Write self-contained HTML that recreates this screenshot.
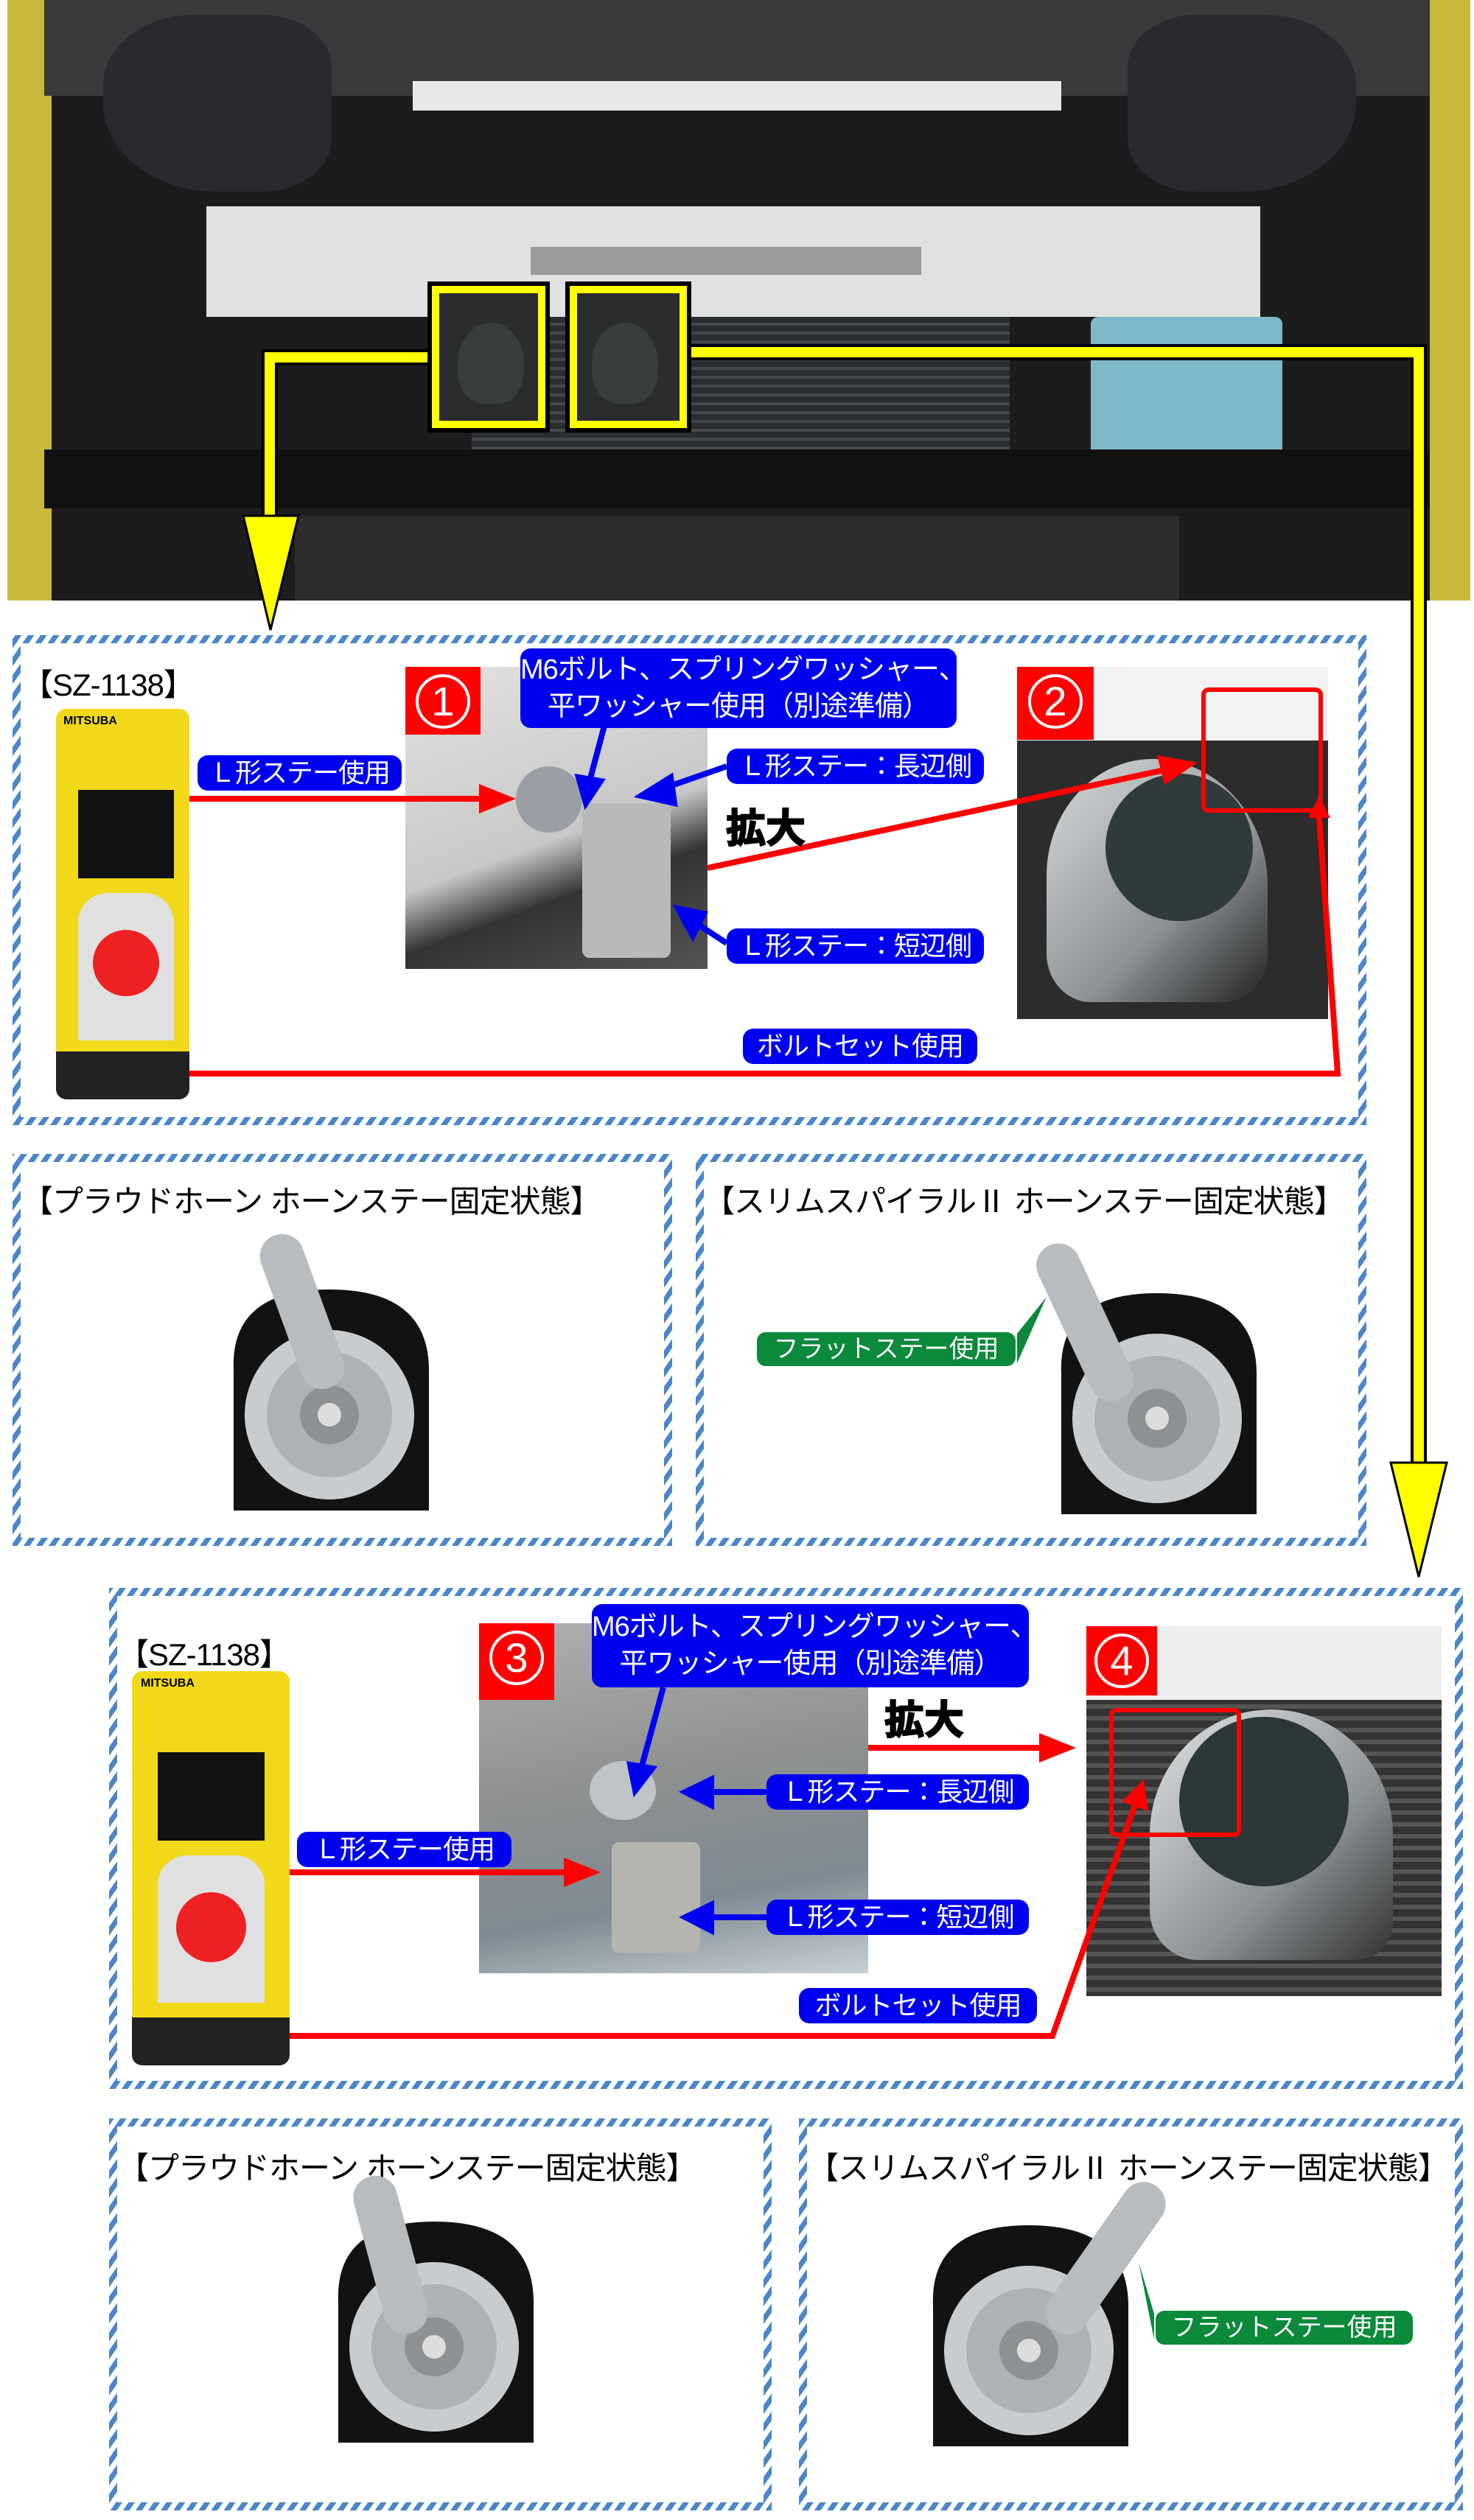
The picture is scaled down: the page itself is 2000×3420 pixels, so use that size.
<!DOCTYPE html>
<html><head><meta charset="utf-8">
<style>
*{margin:0;padding:0;box-sizing:border-box}
body{width:2000px;height:3420px;background:#fff;position:relative;overflow:hidden;font-family:"Liberation Sans","Noto Sans CJK JP",sans-serif}
.a{position:absolute}
.panel{position:absolute;background:repeating-linear-gradient(-55deg,#4a86c8 0 7px,#fff 7px 14px);padding:11px}
.panel>div{width:100%;height:100%;background:#fff}
.pill{position:absolute;background:#0000f0;color:#fff;border-radius:14px;font-size:36px;line-height:48px;text-align:center;white-space:nowrap;letter-spacing:-1px;z-index:3}
.gpill{position:absolute;background:#0a8a3a;color:#fff;border-radius:14px;font-size:34px;line-height:46px;text-align:center;white-space:nowrap;border:2px solid #fff}
.ttl{position:absolute;font-size:42px;color:#000;white-space:nowrap;letter-spacing:-1px}
.num{position:absolute;background:#f00;color:#fff;text-align:center}
.num span{display:inline-block;border:4px solid #fff;border-radius:50%;width:74px;height:74px;line-height:66px;font-size:56px;margin-top:10px}
.pkg{position:absolute;background:#f1d91a;border-radius:14px;overflow:hidden}
.big{position:absolute;font-size:54px;font-weight:bold;color:#000;-webkit-text-stroke:2px #000;text-shadow:0 0 4px #fff;z-index:3}
</style></head><body>

<!-- top photo -->
<div class="a" style="left:10px;top:0;width:1985px;height:815px;background:#1c1c1e"></div>
<div class="a" style="left:10px;top:0;width:60px;height:815px;background:#c9b93a"></div>
<div class="a" style="left:1940px;top:0;width:55px;height:815px;background:#c9b93a"></div>
<div class="a" style="left:60px;top:0;width:1880px;height:130px;background:#3a3a3c"></div>
<div class="a" style="left:140px;top:20px;width:310px;height:240px;background:#2a2a2e;border-radius:40% 30% 30% 50%"></div>
<div class="a" style="left:1530px;top:20px;width:310px;height:240px;background:#2a2a2e;border-radius:30% 40% 50% 30%"></div>
<div class="a" style="left:560px;top:110px;width:880px;height:40px;background:#e8e8e8"></div>
<div class="a" style="left:280px;top:280px;width:1430px;height:150px;background:#e0e2e2"></div>
<div class="a" style="left:720px;top:335px;width:530px;height:38px;background:#9a9a9a"></div>
<div class="a" style="left:640px;top:430px;width:730px;height:180px;background:repeating-linear-gradient(#2a2d30 0 8px,#45484b 8px 12px)"></div>
<div class="a" style="left:1480px;top:430px;width:260px;height:230px;background:#7fb8c8;border-radius:10px"></div>
<div class="a" style="left:60px;top:610px;width:1880px;height:80px;background:#111"></div>
<div class="a" style="left:400px;top:700px;width:1200px;height:115px;background:#2d2d2d"></div>
<div class="a" style="left:580px;top:382px;width:166px;height:205px;border:6px solid #000;background:#2a2c2e"><div style="position:absolute;inset:0;border:10px solid #ff0"></div><div style="position:absolute;left:35px;top:50px;width:90px;height:110px;background:#3a3d3e;border-radius:50% 50% 40% 40%"></div></div>
<div class="a" style="left:767px;top:382px;width:171px;height:205px;border:6px solid #000;background:#2a2c2e"><div style="position:absolute;inset:0;border:10px solid #ff0"></div><div style="position:absolute;left:30px;top:50px;width:90px;height:110px;background:#3a3d3e;border-radius:50% 50% 40% 40%"></div></div>

<!-- panels -->
<div class="panel" style="left:17px;top:862px;width:1837px;height:665px"><div></div></div>
<div class="panel" style="left:17px;top:1566px;width:895px;height:532px"><div></div></div>
<div class="panel" style="left:944px;top:1566px;width:910px;height:532px"><div></div></div>
<div class="panel" style="left:148px;top:2155px;width:1837px;height:680px"><div></div></div>
<div class="panel" style="left:148px;top:2875px;width:899px;height:532px"><div></div></div>
<div class="panel" style="left:1084px;top:2875px;width:901px;height:532px"><div></div></div>

<!-- panel 1 -->
<div class="ttl" style="left:30px;top:896px">【SZ-1138】</div>
<div class="pkg" style="left:76px;top:962px;width:181px;height:530px">
 <div style="position:absolute;left:10px;top:8px;font-size:16px;font-weight:bold">MITSUBA</div>
 <div style="position:absolute;left:30px;top:110px;width:130px;height:120px;background:#111"></div>
 <div style="position:absolute;left:30px;top:250px;width:130px;height:200px;background:#e0e0e0;border-radius:40px 40px 0 0"></div>
 <div style="position:absolute;left:50px;top:300px;width:90px;height:90px;border-radius:50%;background:#e22"></div>
 <div style="position:absolute;left:0;top:465px;width:181px;height:65px;background:#222"></div>
</div>
<div class="pill" style="left:268px;top:1025px;width:277px">Ｌ形ステー使用</div>
<div class="a" style="left:550px;top:905px;width:410px;height:410px;background:linear-gradient(160deg,#e2e2e2,#c8c8c8 55%,#333 70%,#555)"></div>
<div class="a" style="left:700px;top:1040px;width:90px;height:90px;border-radius:50%;background:#9a9fa5"></div>
<div class="a" style="left:790px;top:1090px;width:120px;height:210px;background:#b7b9bb;border-radius:10px"></div>
<div class="num" style="left:550px;top:905px;width:102px;height:92px"><span>1</span></div>
<div class="pill" style="left:706px;top:880px;width:592px;height:108px;font-size:38px;line-height:50px;padding-top:4px">M6ボルト、スプリングワッシャー、<br>平ワッシャー使用（別途準備）</div>
<div class="pill" style="left:986px;top:1016px;width:349px">Ｌ形ステー：長辺側</div>
<div class="big" style="left:985px;top:1080px">拡大</div>
<div class="pill" style="left:986px;top:1260px;width:349px">Ｌ形ステー：短辺側</div>
<div class="pill" style="left:1008px;top:1396px;width:318px">ボルトセット使用</div>
<div class="a" style="left:1380px;top:905px;width:422px;height:478px;background:#2b2c2b"></div>
<div class="a" style="left:1380px;top:905px;width:422px;height:100px;background:#f2f2f2"></div>
<div class="a" style="left:1420px;top:1030px;width:300px;height:330px;background:linear-gradient(135deg,#d8dadb,#8e9396 60%,#222);border-radius:48% 52% 20% 20%"></div>
<div class="a" style="left:1500px;top:1050px;width:200px;height:200px;border-radius:50%;background:#2f3a3a"></div>
<div class="num" style="left:1380px;top:905px;width:104px;height:99px"><span>2</span></div>
<div class="a" style="left:1630px;top:933px;width:165px;height:170px;border:6px solid #f00;border-radius:10px"></div>

<!-- panel 2 -->
<div class="ttl" style="left:30px;top:1597px">【プラウドホーン ホーンステー固定状態】</div>
<div class="ttl" style="left:955px;top:1597px">【スリムスパイラルⅡ ホーンステー固定状態】</div>

<!-- panel 3 -->
<div class="ttl" style="left:160px;top:2212px">【SZ-1138】</div>
<div class="pkg" style="left:179px;top:2268px;width:214px;height:535px">
 <div style="position:absolute;left:12px;top:8px;font-size:16px;font-weight:bold">MITSUBA</div>
 <div style="position:absolute;left:35px;top:110px;width:145px;height:120px;background:#111"></div>
 <div style="position:absolute;left:35px;top:250px;width:145px;height:200px;background:#e0e0e0;border-radius:40px 40px 0 0"></div>
 <div style="position:absolute;left:60px;top:300px;width:95px;height:95px;border-radius:50%;background:#e22"></div>
 <div style="position:absolute;left:0;top:470px;width:214px;height:65px;background:#222"></div>
</div>
<div class="a" style="left:650px;top:2203px;width:528px;height:475px;background:linear-gradient(170deg,#aeb0b0,#8e9090 45%,#7e8a92 75%,#c8d0d6)"></div>
<div class="pill" style="left:403px;top:2486px;width:291px">Ｌ形ステー使用</div>
<div class="a" style="left:800px;top:2390px;width:90px;height:80px;border-radius:50%;background:#c0c4c8"></div>
<div class="a" style="left:830px;top:2500px;width:120px;height:150px;background:#b5b5b0;border-radius:10px"></div>
<div class="num" style="left:650px;top:2203px;width:102px;height:104px"><span>3</span></div>
<div class="pill" style="left:803px;top:2177px;width:593px;height:113px;font-size:38px;line-height:50px;padding-top:6px">M6ボルト、スプリングワッシャー、<br>平ワッシャー使用（別途準備）</div>
<div class="big" style="left:1200px;top:2290px">拡大</div>
<div class="pill" style="left:1040px;top:2408px;width:356px">Ｌ形ステー：長辺側</div>
<div class="pill" style="left:1040px;top:2578px;width:356px">Ｌ形ステー：短辺側</div>
<div class="pill" style="left:1084px;top:2698px;width:323px">ボルトセット使用</div>
<div class="a" style="left:1474px;top:2207px;width:482px;height:502px;background:repeating-linear-gradient(#333 0 10px,#555 10px 16px)"></div>
<div class="a" style="left:1474px;top:2207px;width:482px;height:100px;background:#eee"></div>
<div class="a" style="left:1560px;top:2320px;width:330px;height:340px;background:linear-gradient(135deg,#e0e2e3,#8e9396 60%,#333);border-radius:50% 50% 15% 20%"></div>
<div class="a" style="left:1600px;top:2330px;width:230px;height:230px;border-radius:50%;background:#2c3838"></div>
<div class="num" style="left:1474px;top:2207px;width:96px;height:94px"><span>4</span></div>
<div class="a" style="left:1505px;top:2318px;width:179px;height:175px;border:6px solid #f00;border-radius:10px"></div>

<!-- panel 4 -->
<div class="ttl" style="left:160px;top:2909px">【プラウドホーン ホーンステー固定状態】</div>
<div class="ttl" style="left:1096px;top:2909px">【スリムスパイラルⅡ ホーンステー固定状態】</div>

<svg class="a" style="left:0;top:0;z-index:2" width="2000" height="3420">
 <defs>
  <g id="horn">
   <path d="M-130 -40 Q-135 -150 0 -150 Q135 -150 135 -40 L135 150 L-130 150 Z" fill="#121212"/>
   <circle cx="0" cy="20" r="115" fill="#c9ccce"/>
   <circle cx="0" cy="20" r="85" fill="#aeb2b4"/>
   <circle cx="0" cy="20" r="40" fill="#8d9193"/>
   <circle cx="0" cy="20" r="16" fill="#ddd"/>
  </g>
 </defs>
 <path d="M580 485 H366 V705" fill="none" stroke="#000" stroke-width="22"/>
 <path d="M580 485 H366 V705" fill="none" stroke="#ff0" stroke-width="14"/>
 <polygon points="330,700 405,700 367,855" fill="#ff0" stroke="#000" stroke-width="3"/>
 <path d="M938 478 H1925 V1990" fill="none" stroke="#000" stroke-width="22"/>
 <path d="M938 478 H1925 V1990" fill="none" stroke="#ff0" stroke-width="14"/>
 <polygon points="1887,1985 1963,1985 1925,2140" fill="#ff0" stroke="#000" stroke-width="3"/>
 <g fill="none" stroke="#f00" stroke-width="8">
  <path d="M257 1084 H655"/>
  <path d="M257 1457 H1815 L1790 1110"/>
  <path d="M960 1178 L1580 1045"/>
  <path d="M393 2541 H770"/>
  <path d="M393 2763 H1428 L1540 2450"/>
  <path d="M1178 2372 H1415"/>
 </g>
 <g fill="#f00">
  <polygon points="650,1064 700,1084 650,1104"/>
  <polygon points="1775,1110 1805,1110 1790,1080"/>
  <polygon points="1570,1025 1625,1035 1580,1065"/>
  <polygon points="765,2521 815,2541 765,2561"/>
  <polygon points="1522,2445 1558,2458 1552,2415"/>
  <polygon points="1410,2352 1460,2372 1410,2392"/>
 </g>
 <g stroke="#0000f0" stroke-width="8" fill="#0000f0">
  <line x1="820" y1="985" x2="800" y2="1060"/><polygon points="785,1055 815,1060 795,1090"/>
  <line x1="986" y1="1040" x2="900" y2="1070"/><polygon points="910,1055 915,1090 870,1080"/>
  <line x1="986" y1="1280" x2="940" y2="1250"/><polygon points="955,1240 940,1270 920,1233"/>
  <line x1="900" y1="2290" x2="870" y2="2400"/><polygon points="855,2395 885,2400 862,2430"/>
  <line x1="1040" y1="2432" x2="960" y2="2432"/><polygon points="965,2415 965,2450 930,2432"/>
  <line x1="1040" y1="2602" x2="960" y2="2602"/><polygon points="965,2585 965,2620 930,2602"/>
 </g>
 <use href="#horn" transform="translate(447,1900)"/>
 <rect x="380" y="1670" width="60" height="220" rx="30" fill="#b8bcbe" transform="rotate(-20 410 1780)"/>
 <use href="#horn" transform="translate(1570,1905)"/>
 <rect x="1440" y="1680" width="60" height="230" rx="30" fill="#b8bcbe" transform="rotate(-25 1470 1790)"/>
 <use href="#horn" transform="translate(589,3165)"/>
 <rect x="500" y="2950" width="60" height="220" rx="30" fill="#b8bcbe" transform="rotate(-15 530 3060)"/>
 <use href="#horn" transform="translate(1396,3170)"/>
 <rect x="1470" y="2945" width="60" height="240" rx="30" fill="#b8bcbe" transform="rotate(35 1500 3065)"/>
 <polygon points="1380,1810 1380,1850 1420,1760" fill="#0a8a3a"/>
 <polygon points="1566,3140 1566,3175 1545,3070" fill="#0a8a3a"/>
</svg>
<div class="gpill" style="left:1025px;top:1806px;width:355px;z-index:3">フラットステー使用</div>
<div class="gpill" style="left:1566px;top:3134px;width:353px;z-index:3">フラットステー使用</div>
</body></html>
